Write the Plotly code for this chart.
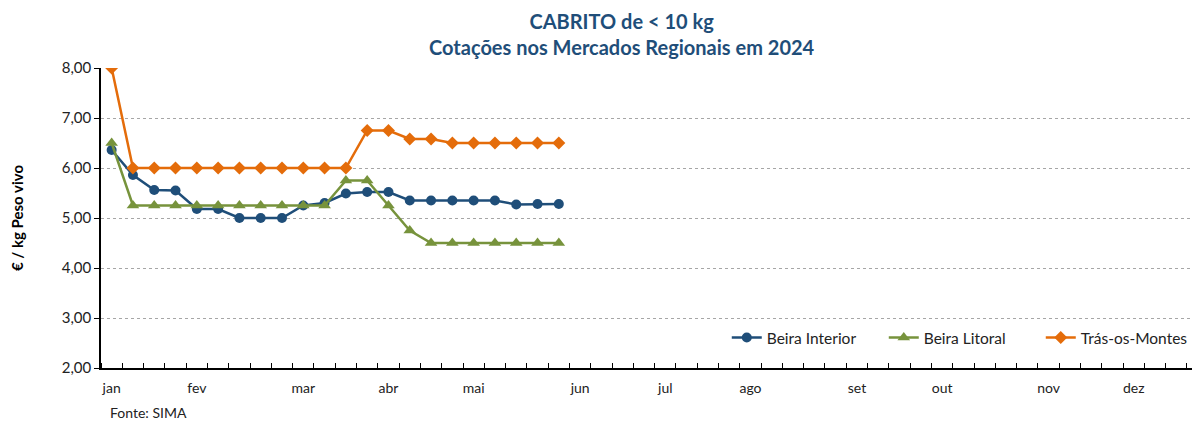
import plotly.graph_objects as go

# ---- data ----
weeks = list(range(1, 23))
beira_interior = [6.36, 5.86, 5.56, 5.55, 5.18, 5.18, 5.00, 5.00, 5.00, 5.25, 5.30,
                  5.49, 5.52, 5.52, 5.35, 5.35, 5.35, 5.35, 5.35, 5.27, 5.28, 5.28]
beira_litoral = [6.50, 5.25, 5.25, 5.25, 5.25, 5.25, 5.25, 5.25, 5.25, 5.25, 5.25,
                 5.75, 5.75, 5.25, 4.75, 4.50, 4.50, 4.50, 4.50, 4.50, 4.50, 4.50]
tras_os_montes = [8.00, 6.00, 6.00, 6.00, 6.00, 6.00, 6.00, 6.00, 6.00, 6.00, 6.00,
                  6.00, 6.75, 6.75, 6.58, 6.58, 6.50, 6.50, 6.50, 6.50, 6.50, 6.50]
month_labels = ["jan", "fev", "mar", "abr", "mai", "jun", "jul", "ago", "set", "out", "nov", "dez"]
month_weeks = [1, 5, 10, 14, 18, 23, 27, 31, 36, 40, 45, 49]
y_ticks = [2, 3, 4, 5, 6, 7, 8]

FONT = "Lato"
fig = go.Figure()

series = [
    ("Beira Interior", beira_interior, "#1F4E79", "circle", 10),
    ("Beira Litoral", beira_litoral, "#77933C", "triangle-up", 11),
    ("Trás-os-Montes", tras_os_montes, "#E46C0A", "diamond", 10),
]
for name, vals, col, sym, sz in series:
    fig.add_trace(go.Scatter(
        x=weeks, y=vals, name=name, mode="lines+markers",
        line=dict(color=col, width=2.5),
        marker=dict(symbol=sym, size=sz, color=col),
    ))

# the page body adds an 8px offset; figure is sized so it ends at the window edge
fig.update_layout(
    width=1192, height=418,
    margin=dict(l=93, r=3, t=60, b=58, autoexpand=False),
    paper_bgcolor="white", plot_bgcolor="white",
    separators=",.",
    font=dict(family=FONT, size=14, color="#222"),
    showlegend=True,
    legend=dict(
        orientation="h", xref="container", yref="container",
        x=0.603, xanchor="left", y=0.2105, yanchor="middle",
        font=dict(family=FONT, size=15.5, color="#222"),
        itemwidth=30, entrywidth=112, entrywidthmode="pixels",
        bgcolor="rgba(0,0,0,0)",
    ),
    xaxis=dict(
        range=[0.5, 51.97],
        tickmode="array", tickvals=month_weeks, ticktext=month_labels,
        ticks="", showgrid=False, zeroline=False,
        showline=True, linecolor="black", linewidth=1.5,
        tickfont=dict(family=FONT, size=14, color="#222"),
        ticklabelstandoff=6, automargin=False,
        minor=dict(tickmode="linear", tick0=0.5, dtick=1, ticks="inside",
                   ticklen=5, tickcolor="black", tickwidth=1, showgrid=False),
    ),
    yaxis=dict(
        range=[2, 8], tickmode="array", tickvals=y_ticks, tickformat=".2f",
        ticks="outside", ticklen=5, tickcolor="black",
        showgrid=True, gridcolor="#A6A6A6", griddash="dot", gridwidth=1,
        zeroline=False, showline=True, linecolor="black", linewidth=1.5,
        tickfont=dict(family=FONT, size=15, color="#222"),
        automargin=False,
        title=dict(text="<b>€ / kg Peso vivo</b>", standoff=44,
                   font=dict(family=FONT, size=15, color="black")),
    ),
)

fig.add_annotation(
    text="<b>CABRITO de < 10 kg</b><br><b>Cotações nos Mercados Regionais em 2024</b>",
    xref="paper", yref="paper", x=(622 - 101) / 1096, y=1 + (68 - 34) / 300,
    xanchor="center", yanchor="middle", showarrow=False, align="center",
    font=dict(family=FONT, size=20, color="#1F4E79"),
)
fig.add_annotation(
    text="Fonte: SIMA", xref="paper", yref="paper",
    x=(108 - 101) / 1096, y=-(412 - 368) / 300, xanchor="left", yanchor="middle",
    showarrow=False, font=dict(family=FONT, size=14, color="#222"),
)

fig.write_html("out.html")
